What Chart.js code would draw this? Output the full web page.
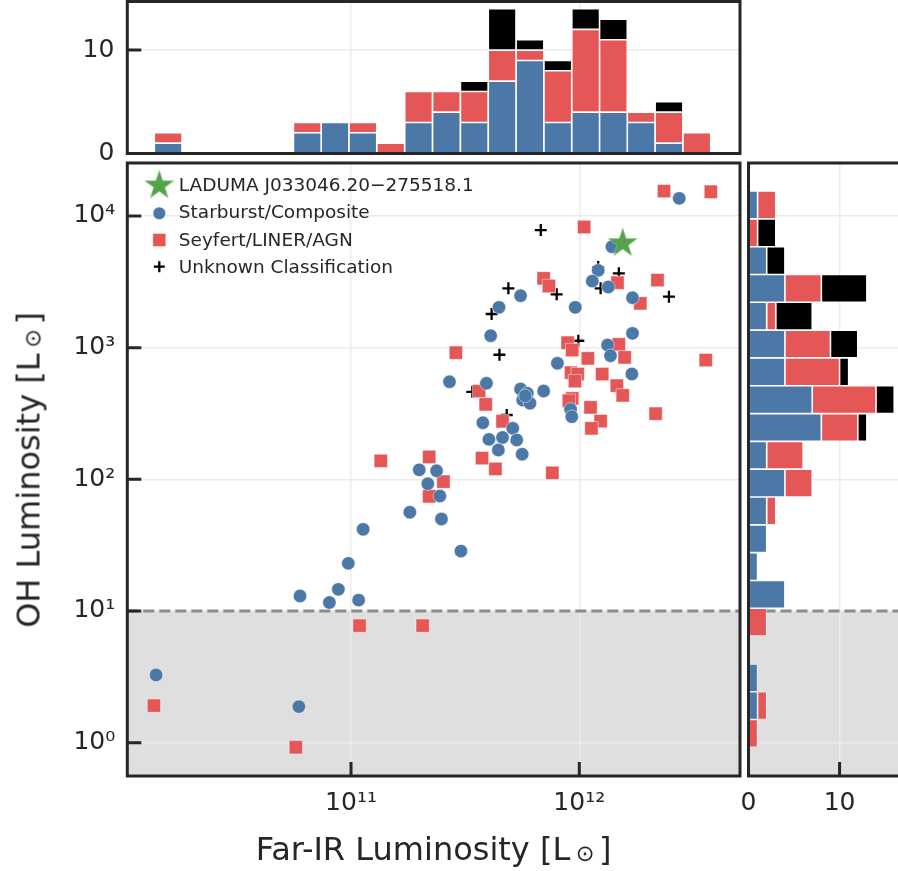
<!DOCTYPE html>
<html>
<head>
<meta charset="utf-8">
<title>OH megamaser luminosities</title>
<script src="https://cdn.jsdelivr.net/npm/chart.js@4.4.1/dist/chart.umd.min.js"></script>
<style>
  html, body { margin: 0; padding: 0; background: #fff; }
  body { position: relative; width: 898px; height: 871px; overflow: hidden;
         font-family: "DejaVu Sans", sans-serif; color: #262626; }
  canvas { position: absolute; }
  #topHist { left: 0; top: 0; }
  #main { left: 0; top: 150px; }
  #sideHist { left: 740px; top: 150px; }
  .axis-title { position: absolute; font-size: 32px; line-height: 32px; white-space: nowrap; text-align: center; }
  .axis-title sub { font-size: 70%; line-height: 0; vertical-align: -0.06em; margin: 0 0.2em 0 0.25em; }
  #xTitle { left: 127.3px; width: 612.7px; top: 833px; }
  #yTitle { left: -278.1px; top: 453.5px; width: 613px; transform: rotate(-90deg); }
</style>
</head>
<body>
<canvas id="topHist" width="760" height="170"></canvas>
<canvas id="main" width="760" height="721"></canvas>
<canvas id="sideHist" width="170" height="721"></canvas>
<div class="axis-title" id="xTitle">Far-IR Luminosity [L<sub>⊙</sub>]</div>
<div class="axis-title" id="yTitle">OH Luminosity [L<sub>⊙</sub>]</div>
<script>
// --- scatter data: far-IR and OH luminosities in solar units ---
const firLaduma = [1.55e12];
const ohLaduma = [6200];

const firStarburst = [2.74e12, 1.39e12, 1.21e12, 1.14e12, 1.34e12, 5.53e11, 1.71e12, 4.45e11, 9.6e11, 4.09e11,
  1.71e12, 1.33e12, 1.37e12, 8.02e11, 1.70e12, 2.70e11, 3.92e11, 5.53e11, 5.92e11, 6.98e11,
  5.65e11, 6.08e11, 9.16e11, 9.27e11, 3.78e11, 5.11e11, 4.02e11, 4.61e11, 5.32e11, 4.42e11,
  5.62e11, 1.99e11, 2.37e11, 2.17e11, 2.45e11, 1.81e11, 2.49e11, 1.13e11, 3.03e11, 9.73e10,
  8.80e10, 5.98e10, 8.04e10, 1.08e11, 1.40e10, 5.91e10, 5.80e11];
const ohStarburst = [13600, 5840, 3860, 3200, 2885, 2478, 2393, 2023, 2023, 1231,
  1284, 1047, 868, 760, 630, 551, 536, 485, 450, 468,
  400, 378, 340, 299, 269, 244, 201, 208, 199, 167,
  155, 118, 116, 92.6, 74.7, 56.2, 50.0, 41.7, 28.5, 23.0,
  14.6, 13.0, 11.6, 12.1, 3.27, 1.88, 430];

const firSeyfert = [2.35e12, 3.77e12, 1.05e12, 6.98e11, 7.36e11, 1.47e12, 2.20e12, 1.85e12, 2.88e11, 8.89e11,
  9.31e11, 1.49e12, 1.58e12, 1.09e12, 3.58e12, 9.2e11, 9.84e11, 1.26e12, 9.57e11, 1.46e12,
  3.64e11, 1.55e12, 3.89e11, 9.31e11, 9.0e11, 1.12e12, 2.16e12, 4.61e11, 1.24e12, 1.13e12,
  3.75e11, 4.29e11, 7.62e11, 1.35e11, 2.20e11, 2.54e11, 2.20e11, 1.09e11, 2.06e11, 1.37e10,
  5.73e10];
const ohSeyfert = [15450, 15270, 8240, 3360, 2937, 3110, 3260, 2170, 915, 1089,
  959, 1059, 844, 829, 805, 645, 630, 630, 557, 514,
  468, 434, 371, 412, 395, 352, 315, 276, 277, 244,
  145, 120, 112, 138, 148, 95.9, 74.3, 7.74, 7.74, 1.91,
  0.923];

const firUnknown = [6.78e11, 1.21e12, 1.49e12, 4.89e11, 7.96e11, 1.24e12, 2.47e12, 4.13e11, 4.47e11, 9.9e11, 3.40e11, 4.81e11];
const ohUnknown = [7815, 4090, 3665, 2820, 2540, 2820, 2436, 1800, 883, 1128, 462, 308];

// --- histogram bins (log10 L) and counts per class ---
const firBinEdges = [10.138, 10.260, 10.382, 10.504, 10.626, 10.748, 10.869, 10.991, 11.113, 11.235, 11.357,
  11.479, 11.601, 11.723, 11.845, 11.967, 12.089, 12.210, 12.332, 12.454, 12.576];
const firCountStarburst = [1, 0, 0, 0, 0, 2, 3, 2, 0, 3, 4, 3, 7, 9, 3, 4, 4, 3, 1, 0];
const firCountSeyfert   = [1, 0, 0, 0, 0, 1, 0, 1, 1, 3, 2, 3, 3, 1, 5, 8, 7, 1, 3, 2];
const firCountUnknown   = [0, 0, 0, 0, 0, 0, 0, 0, 0, 0, 0, 1, 4, 1, 1, 2, 2, 0, 1, 0];

const ohBinEdges = [-0.035, 0.176, 0.387, 0.598, 0.810, 1.021, 1.232, 1.443, 1.654, 1.866, 2.077,
  2.288, 2.499, 2.710, 2.922, 3.133, 3.344, 3.555, 3.766, 3.978, 4.189];
const ohCountStarburst = [0, 1, 1, 0, 0, 4, 1, 2, 2, 4, 2, 8, 7, 4, 4, 2, 4, 2, 0, 1];
const ohCountSeyfert   = [1, 1, 0, 0, 2, 0, 0, 0, 1, 3, 4, 4, 7, 6, 5, 1, 4, 0, 1, 2];
const ohCountUnknown   = [0, 0, 0, 0, 0, 0, 0, 0, 0, 0, 0, 1, 2, 1, 3, 4, 5, 2, 2, 0];

// --- axis ticks ---
const firTicks = [1e11, 1e12];
const ohTicks = [1, 10, 100, 1000, 10000];
const countTicks = [0, 10];
const detectionLimit = 10;

const INK = '#262626';
const GRID = '#ebebeb';
const BLUE = '#4c78a8';
const RED = '#e45756';
const BLACK = '#000000';
const GREEN = '#54a24b';
const EDGE = 'rgba(255,255,255,0.8)';

Chart.defaults.font.family = '"DejaVu Sans", sans-serif';
Chart.defaults.font.size = 25;
Chart.defaults.color = INK;

const SUP = { '0': '⁰', '1': '¹', '2': '²', '3': '³', '4': '⁴', '5': '⁵', '6': '⁶', '7': '⁷', '8': '⁸', '9': '⁹', '-': '⁻' };
function powerLabel(v) {
  const e = String(Math.round(Math.log10(v)));
  return '10' + e.split('').map(c => SUP[c]).join('');
}

// pin axis boxes so the three panels line up
function fixedBox(size) {
  return function (scale) {
    if (scale.isHorizontal()) scale.height = size; else scale.width = size;
    scale.paddingTop = scale.paddingBottom = scale.paddingLeft = scale.paddingRight = 0;
  };
}
function fixedTicks(values) {
  return function (scale) { scale.ticks = values.map(v => ({ value: v })); };
}

function makeStar(outer, color) {
  const c = document.createElement('canvas');
  const size = Math.ceil(outer * 2 + 4);
  c.width = c.height = size;
  const g = c.getContext('2d');
  const inner = outer * 0.382;
  g.beginPath();
  for (let k = 0; k < 10; k++) {
    const r = k % 2 ? inner : outer;
    const a = -Math.PI / 2 + k * Math.PI / 5;
    g.lineTo(size / 2 + r * Math.cos(a), size / 2 + r * Math.sin(a));
  }
  g.closePath();
  g.fillStyle = color;
  g.fill();
  g.strokeStyle = 'rgba(255,255,255,0.4)';
  g.lineWidth = 0.8;
  g.stroke();
  return c;
}
const starMarker = makeStar(16, GREEN);

// shaded non-detection band, inward ticks and the box frame
const panelPlugin = {
  id: 'panel',
  beforeDraw(chart, args, opts) {
    if (!opts.band) return;
    const { ctx, chartArea: a } = chart;
    const y = chart.scales.y.getPixelForValue(opts.band);
    ctx.save();
    ctx.fillStyle = '#dfdfdf';
    ctx.fillRect(a.left, y, a.right - a.left, a.bottom - y);
    ctx.restore();
  },
  beforeDatasetsDraw(chart, args, opts) {
    if (!opts.band) return;
    const { ctx, chartArea: a } = chart;
    const y = chart.scales.y.getPixelForValue(opts.band);
    ctx.save();
    ctx.strokeStyle = '#8a8a8a';
    ctx.lineWidth = 3;
    ctx.setLineDash([11, 5]);
    ctx.beginPath();
    ctx.moveTo(a.left, y);
    ctx.lineTo(a.right, y);
    ctx.stroke();
    ctx.restore();
  },
  afterDraw(chart, args, opts) {
    const { ctx, chartArea: a } = chart;
    ctx.save();
    ctx.strokeStyle = INK;
    ctx.lineWidth = 3;
    ctx.beginPath();
    (opts.inTicks || []).forEach(id => {
      const s = chart.scales[id];
      s.ticks.forEach(t => {
        const p = s.getPixelForValue(t.value);
        if (s.isHorizontal()) {
          ctx.moveTo(p, a.bottom);
          ctx.lineTo(p, a.bottom - 14);
        } else {
          ctx.moveTo(a.left, p);
          ctx.lineTo(a.left + 14, p);
        }
      });
    });
    ctx.stroke();
    ctx.strokeRect(a.left, a.top, a.right - a.left, a.bottom - a.top);
    ctx.restore();
  }
};
Chart.register(panelPlugin);

// legend stacked in the upper-left corner of the scatter panel
const cornerLegend = {
  id: 'cornerLegend',
  afterDatasetsDraw(chart) {
    const { ctx, chartArea: a } = chart;
    const rows = [
      { ds: 0, radius: 0, cy: 22.5, base: 27.5 },
      { ds: 1, radius: 6.3, cy: 50.3, base: 55 },
      { ds: 2, radius: 9.2, cy: 77, base: 82.5 },
      { ds: 3, radius: 5.5, cy: 103.7, base: 110 }
    ];
    ctx.save();
    rows.forEach(r => {
      const ds = chart.data.datasets[r.ds];
      ctx.fillStyle = ds.backgroundColor;
      ctx.strokeStyle = ds.borderColor;
      ctx.lineWidth = ds.borderWidth;
      Chart.helpers.drawPoint(ctx, {
        pointStyle: ds.pointStyle, radius: r.radius || 1, rotation: 0, borderWidth: ds.borderWidth
      }, a.left + 32, a.top + r.cy);
      ctx.fillStyle = INK;
      ctx.font = '18.5px "DejaVu Sans", sans-serif';
      ctx.textAlign = 'left';
      ctx.textBaseline = 'alphabetic';
      ctx.fillText(ds.label, a.left + 51.5, a.top + r.base);
    });
    ctx.restore();
  }
};

function points(xs, ys) {
  return xs.map((x, i) => ({ x: x, y: ys[i] }));
}
function centers(edges) {
  return edges.slice(0, -1).map((e, i) => (e + edges[i + 1]) / 2);
}
function histSet(label, counts, color, mids, horizontal) {
  return {
    label: label,
    backgroundColor: color,
    borderColor: EDGE,
    borderWidth: 0.8,
    borderSkipped: false,
    inflateAmount: 0,
    categoryPercentage: 1,
    barPercentage: 1,
    data: counts.map((c, i) => horizontal ? { x: c, y: mids[i] } : { x: mids[i], y: c })
  };
}
const gridOpts = { color: GRID, lineWidth: 1.5, drawTicks: false, offset: false };

// --- main scatter ---
new Chart(document.getElementById('main'), {
  type: 'scatter',
  data: {
    datasets: [
      { label: 'LADUMA J033046.20−275518.1', data: points(firLaduma, ohLaduma), pointStyle: starMarker,
        backgroundColor: GREEN, borderColor: GREEN, borderWidth: 0, order: 0 },
      { label: 'Starburst/Composite', data: points(firStarburst, ohStarburst), pointStyle: 'circle', pointRadius: 6.7,
        backgroundColor: BLUE, borderColor: 'rgba(255,255,255,0.6)', borderWidth: 0.8, order: 1 },
      { label: 'Seyfert/LINER/AGN', data: points(firSeyfert, ohSeyfert), pointStyle: 'rect', pointRadius: 9.4,
        backgroundColor: RED, borderColor: 'rgba(255,255,255,0.6)', borderWidth: 0.8, order: 2 },
      { label: 'Unknown Classification', data: points(firUnknown, ohUnknown), pointStyle: 'cross', pointRadius: 6,
        backgroundColor: BLACK, borderColor: BLACK, borderWidth: 2.3, order: 3 }
    ]
  },
  options: {
    responsive: false,
    animation: false,
    events: [],
    layout: { padding: { top: 13, right: 20, left: 0, bottom: 0 } },
    plugins: {
      legend: { display: false },
      tooltip: { enabled: false },
      panel: { band: detectionLimit, inTicks: ['x', 'y'] }
    },
    scales: {
      x: {
        type: 'logarithmic', min: 1.0471e10, max: 5.058e12,
        afterBuildTicks: fixedTicks(firTicks), afterFit: fixedBox(95),
        ticks: { callback: v => powerLabel(v), padding: 12, maxRotation: 0, autoSkip: false },
        grid: gridOpts, border: { display: false }
      },
      y: {
        type: 'logarithmic', min: 0.5585, max: 25235,
        afterBuildTicks: fixedTicks(ohTicks), afterFit: fixedBox(127.3),
        ticks: { callback: v => powerLabel(v), padding: 12, autoSkip: false },
        grid: gridOpts, border: { display: false }
      }
    }
  },
  plugins: [cornerLegend]
});

// --- far-IR histogram above ---
const firMids = centers(firBinEdges);
new Chart(document.getElementById('topHist'), {
  type: 'bar',
  data: {
    datasets: [
      histSet('Starburst/Composite', firCountStarburst, BLUE, firMids, false),
      histSet('Seyfert/LINER/AGN', firCountSeyfert, RED, firMids, false),
      histSet('Unknown Classification', firCountUnknown, BLACK, firMids, false)
    ]
  },
  options: {
    responsive: false,
    animation: false,
    events: [],
    layout: { padding: { top: 1.5, right: 20, left: 0, bottom: 0 } },
    plugins: { legend: { display: false }, tooltip: { enabled: false }, panel: { inTicks: ['y'] } },
    scales: {
      x: {
        type: 'linear', min: 10.020, max: 12.704, stacked: true, offset: false,
        afterBuildTicks: fixedTicks(firTicks.map(v => Math.log10(v))), afterFit: fixedBox(16.5),
        ticks: { display: false }, grid: gridOpts, border: { display: false }
      },
      y: {
        type: 'linear', min: 0, max: 14.7, stacked: true,
        afterBuildTicks: fixedTicks(countTicks), afterFit: fixedBox(127.3),
        ticks: { padding: 13 }, grid: gridOpts, border: { display: false }
      }
    }
  }
});

// --- OH histogram on the right ---
const ohMids = centers(ohBinEdges);
new Chart(document.getElementById('sideHist'), {
  type: 'bar',
  data: {
    datasets: [
      histSet('Starburst/Composite', ohCountStarburst, BLUE, ohMids, true),
      histSet('Seyfert/LINER/AGN', ohCountSeyfert, RED, ohMids, true),
      histSet('Unknown Classification', ohCountUnknown, BLACK, ohMids, true)
    ]
  },
  options: {
    indexAxis: 'y',
    responsive: false,
    animation: false,
    events: [],
    layout: { padding: { top: 13, right: 8.5, left: 0, bottom: 0 } },
    plugins: {
      legend: { display: false },
      tooltip: { enabled: false },
      panel: { band: Math.log10(detectionLimit), inTicks: ['x'] }
    },
    scales: {
      x: {
        type: 'linear', min: 0, max: 16.8, stacked: true,
        afterBuildTicks: fixedTicks(countTicks), afterFit: fixedBox(95),
        ticks: { padding: 12, maxRotation: 0 }, grid: gridOpts, border: { display: false }
      },
      y: {
        type: 'linear', min: -0.253, max: 4.402, stacked: true, offset: false,
        afterBuildTicks: fixedTicks(ohTicks.map(v => Math.log10(v))), afterFit: fixedBox(8.5),
        ticks: { display: false }, grid: gridOpts, border: { display: false }
      }
    }
  }
});
</script>
</body>
</html>
